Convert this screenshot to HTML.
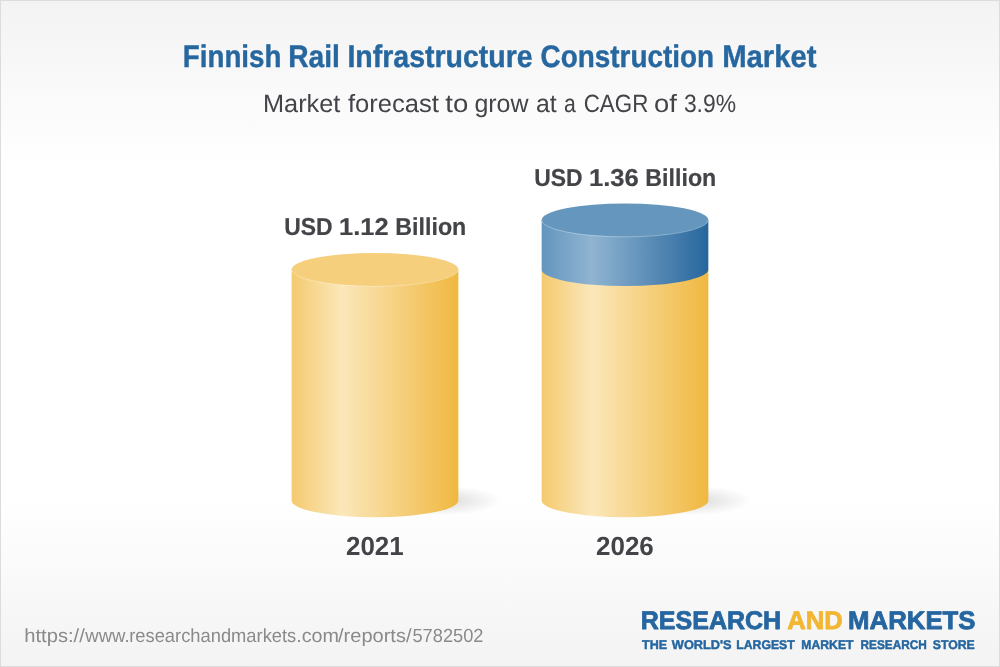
<!DOCTYPE html>
<html lang="en">
<head>
<meta charset="utf-8">
<title>Finnish Rail Infrastructure Construction Market</title>
<style>
html,body{margin:0;padding:0;width:1000px;height:667px;overflow:hidden;background:#fff;}
svg{display:block;}
text{font-family:"Liberation Sans",sans-serif;white-space:pre;text-rendering:geometricPrecision;}
.b{font-weight:bold;}
</style>
</head>
<body>
<svg width="1000" height="667" viewBox="0 0 1000 667">
<defs>
<linearGradient id="bg" x1="0" y1="0" x2="0" y2="1">
<stop offset="0" stop-color="#f3f3f3"/>
<stop offset="0.25" stop-color="#ffffff"/>
<stop offset="0.75" stop-color="#ffffff"/>
<stop offset="1" stop-color="#f3f3f3"/>
</linearGradient>
<linearGradient id="yel" x1="0" y1="0" x2="1" y2="0">
<stop offset="0" stop-color="#f4ca6e"/>
<stop offset="0.30" stop-color="#fbe7ba"/>
<stop offset="1" stop-color="#f0b840"/>
</linearGradient>
<linearGradient id="blu" x1="0" y1="0" x2="1" y2="0">
<stop offset="0" stop-color="#6395be"/>
<stop offset="0.30" stop-color="#90b4d1"/>
<stop offset="1" stop-color="#26669d"/>
</linearGradient>
<radialGradient id="sh" cx="0.5" cy="0.5" r="0.5">
<stop offset="0" stop-color="#000" stop-opacity="0.15"/>
<stop offset="0.5" stop-color="#000" stop-opacity="0.075"/>
<stop offset="1" stop-color="#000" stop-opacity="0"/>
</radialGradient>
</defs>
<rect x="0" y="0" width="1000" height="667" fill="#dcdcdc"/>
<rect x="1" y="1" width="998" height="665" fill="url(#bg)"/>

<!-- shadows -->
<ellipse cx="440" cy="500.5" rx="62" ry="15" fill="url(#sh)"/>
<ellipse cx="690" cy="500.5" rx="62" ry="15" fill="url(#sh)"/>

<!-- cylinder 2021 -->
<path d="M291.65 269.5 L291.65 500.6 A83.35 16.55 0 0 0 458.35 500.6 L458.35 269.5 Z" fill="url(#yel)"/>
<ellipse cx="375" cy="269.5" rx="83.35" ry="16.55" fill="#f5cf7b"/>
<path d="M292.05 269.80 A82.95 16.55 0 0 0 457.95 269.80" fill="none" stroke="#fff" stroke-opacity="0.3" stroke-width="1"/>

<!-- cylinder 2026 -->
<path d="M541.65 269.5 L541.65 500.6 A83.35 16.55 0 0 0 708.35 500.6 L708.35 269.5 Z" fill="url(#yel)"/>
<path d="M541.65 220.0 L541.65 269.5 A83.35 16.55 0 0 0 708.35 269.5 L708.35 220.0 Z" fill="url(#blu)"/>
<ellipse cx="625" cy="220.0" rx="83.35" ry="16.55" fill="#6597be"/>
<path d="M542.05 220.30 A82.95 16.55 0 0 0 707.95 220.30" fill="none" stroke="#fff" stroke-opacity="0.3" stroke-width="1"/>

<!-- texts -->
<text y="67" font-size="31.3" fill="#27679f" stroke="#27679f" stroke-width="0.4" stroke-linejoin="round" class="b"><tspan x="182.83" textLength="98.55" lengthAdjust="spacingAndGlyphs">Finnish</tspan> <tspan x="288.20" textLength="51.75" lengthAdjust="spacingAndGlyphs">Rail</tspan> <tspan x="347.38" textLength="185.32" lengthAdjust="spacingAndGlyphs">Infrastructure</tspan> <tspan x="540.51" textLength="173.64" lengthAdjust="spacingAndGlyphs">Construction</tspan> <tspan x="722.13" textLength="94.40" lengthAdjust="spacingAndGlyphs">Market</tspan></text>
<text y="112" font-size="25" fill="#434448"><tspan x="262.97" textLength="77.38" lengthAdjust="spacingAndGlyphs">Market</tspan> <tspan x="347.94" textLength="91.05" lengthAdjust="spacingAndGlyphs">forecast</tspan> <tspan x="445.25" textLength="22.97" lengthAdjust="spacingAndGlyphs">to</tspan> <tspan x="474.40" textLength="54.14" lengthAdjust="spacingAndGlyphs">grow</tspan> <tspan x="536.01" textLength="20.70" lengthAdjust="spacingAndGlyphs">at</tspan> <tspan x="563.95" textLength="11.77" lengthAdjust="spacingAndGlyphs">a</tspan> <tspan x="583.68" textLength="64.62" lengthAdjust="spacingAndGlyphs">CAGR</tspan> <tspan x="654.11" textLength="22.81" lengthAdjust="spacingAndGlyphs">of</tspan> <tspan x="683.88" textLength="52.22" lengthAdjust="spacingAndGlyphs">3.9%</tspan></text>
<text y="235" font-size="24.4" fill="#434448" stroke="#434448" stroke-width="0.2" stroke-linejoin="round" class="b"><tspan x="284.23" textLength="48.31" lengthAdjust="spacingAndGlyphs">USD</tspan> <tspan x="339.04" textLength="49.53" lengthAdjust="spacingAndGlyphs">1.12</tspan> <tspan x="395.37" textLength="70.88" lengthAdjust="spacingAndGlyphs">Billion</tspan></text>
<text y="186" font-size="24.4" fill="#434448" stroke="#434448" stroke-width="0.2" stroke-linejoin="round" class="b"><tspan x="534.23" textLength="48.31" lengthAdjust="spacingAndGlyphs">USD</tspan> <tspan x="588.93" textLength="49.85" lengthAdjust="spacingAndGlyphs">1.36</tspan> <tspan x="645.37" textLength="70.88" lengthAdjust="spacingAndGlyphs">Billion</tspan></text>
<text y="555" font-size="26.2" fill="#434448" class="b"><tspan x="346.01" textLength="57.75" lengthAdjust="spacingAndGlyphs">2021</tspan> <tspan x="596.01" textLength="57.80" lengthAdjust="spacingAndGlyphs">2026</tspan></text>
<text y="642" font-size="19" fill="#8a8a8a"><tspan x="24.27" textLength="60.56" lengthAdjust="spacingAndGlyphs">https://</tspan><tspan x="85.30" textLength="44.32" lengthAdjust="spacingAndGlyphs">www.</tspan><tspan x="129.19" textLength="167.08" lengthAdjust="spacingAndGlyphs">researchandmarkets</tspan><tspan x="296.18" textLength="42.75" lengthAdjust="spacingAndGlyphs">.com</tspan><tspan x="338.00" textLength="73.55" lengthAdjust="spacingAndGlyphs">/reports/</tspan><tspan x="412.48" textLength="70.95" lengthAdjust="spacingAndGlyphs">5782502</tspan></text>
<text y="629" font-size="25.6" fill="#2566a0" stroke="#2566a0" stroke-width="0.8" stroke-linejoin="round" class="b"><tspan x="640.78" textLength="140.38" lengthAdjust="spacingAndGlyphs">RESEARCH</tspan></text>
<text y="629" font-size="25.6" fill="#f2b632" stroke="#f2b632" stroke-width="0.8" stroke-linejoin="round" class="b"><tspan x="787.15" textLength="55.55" lengthAdjust="spacingAndGlyphs">AND</tspan></text>
<text y="629" font-size="25.6" fill="#2566a0" stroke="#2566a0" stroke-width="0.8" stroke-linejoin="round" class="b"><tspan x="848.14" textLength="127.41" lengthAdjust="spacingAndGlyphs">MARKETS</tspan></text>
<text y="649" font-size="12.6" fill="#2566a0" stroke="#2566a0" stroke-width="0.45" stroke-linejoin="round" class="b"><tspan x="642.00" textLength="24.99" lengthAdjust="spacingAndGlyphs">THE</tspan> <tspan x="671.85" textLength="59.77" lengthAdjust="spacingAndGlyphs">WORLD'S</tspan> <tspan x="736.31" textLength="58.41" lengthAdjust="spacingAndGlyphs">LARGEST</tspan> <tspan x="801.32" textLength="52.16" lengthAdjust="spacingAndGlyphs">MARKET</tspan> <tspan x="860.53" textLength="66.31" lengthAdjust="spacingAndGlyphs">RESEARCH</tspan> <tspan x="932.76" textLength="42.00" lengthAdjust="spacingAndGlyphs">STORE</tspan></text>
</svg>
</body>
</html>
